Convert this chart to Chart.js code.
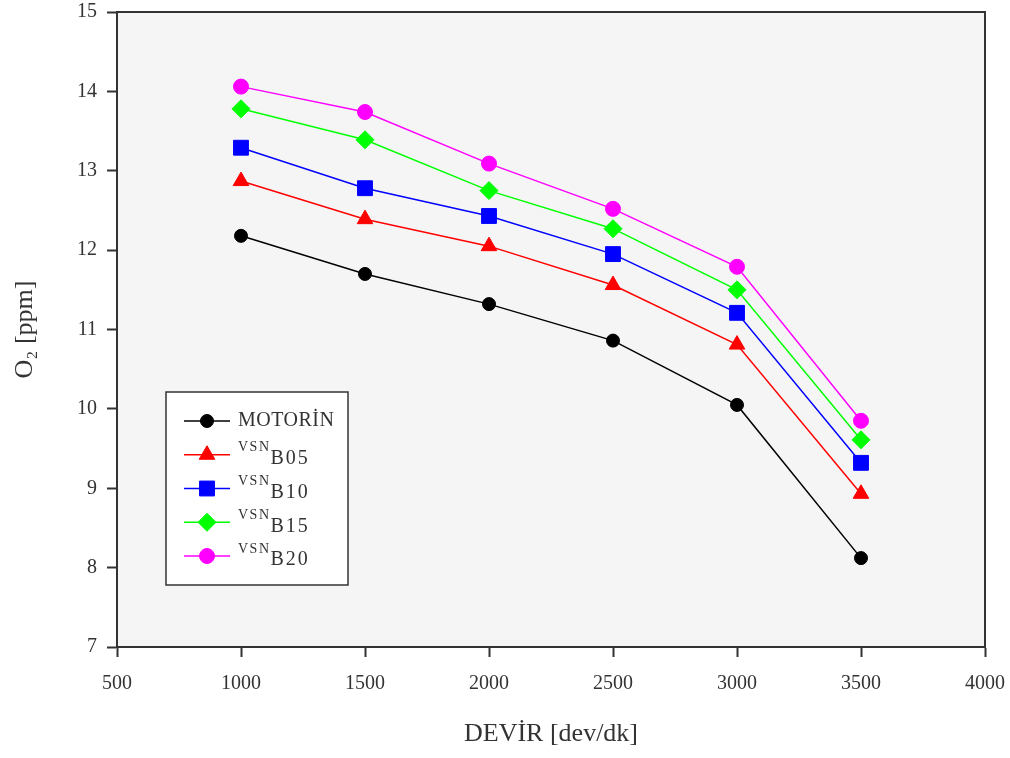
<!DOCTYPE html>
<html>
<head>
<meta charset="utf-8">
<script src="https://cdn.jsdelivr.net/npm/chart.js@4/dist/chart.umd.min.js"></script>
<style>
  body { margin: 0; background: #fff; }
</style>
</head>
<body>
  <canvas id="o2chart" width="1010" height="758"></canvas>
  <script>
    // engine speed (dev/dk) and O2 readings for each fuel
    const devir = [1000, 1500, 2000, 2500, 3000, 3500];
    const motorin = [12.18, 11.70, 11.32, 10.86, 10.05, 8.12];
    const vsnB05 = [12.87, 12.39, 12.05, 11.56, 10.81, 8.93];
    const vsnB10 = [13.29, 12.78, 12.43, 11.95, 11.21, 9.32];
    const vsnB15 = [13.78, 13.39, 12.75, 12.27, 11.50, 9.61];
    const vsnB20 = [14.06, 13.74, 13.09, 12.52, 11.79, 9.85];

    const seriesNames = ["MOTORİN", "VSN|B05", "VSN|B10", "VSN|B15", "VSN|B20"];
    const xTicks = [500, 1000, 1500, 2000, 2500, 3000, 3500, 4000];
    const yTicks = [7, 8, 9, 10, 11, 12, 13, 14, 15];

    const serif = "'Liberation Serif', 'Times New Roman', serif";

    function makeSet(name, values, color, style, radius) {
      return {
        label: name,
        data: values.map((v, i) => ({ x: devir[i], y: v })),
        borderColor: color,
        backgroundColor: color,
        borderWidth: 1.5,
        pointStyle: style,
        pointRadius: radius,
        pointHoverRadius: radius,
        pointBorderWidth: 1,
        pointBackgroundColor: color,
        pointBorderColor: color,
        tension: 0,
      };
    }

    const plotFrame = {
      id: "plotFrame",
      beforeDraw(chart) {
        const { ctx, chartArea: a } = chart;
        ctx.save();
        ctx.fillStyle = "#fff";
        ctx.fillRect(0, 0, chart.width, chart.height);
        ctx.fillStyle = "#f5f5f5";
        ctx.fillRect(a.left, a.top, a.right - a.left, a.bottom - a.top);
        ctx.restore();
      },
      afterDraw(chart) {
        const { ctx, chartArea: a } = chart;
        ctx.save();
        ctx.strokeStyle = "#333";
        ctx.lineWidth = 2;
        ctx.beginPath();
        ctx.moveTo(a.left, a.top);
        ctx.lineTo(a.right, a.top);
        ctx.lineTo(a.right, a.bottom);
        ctx.stroke();
        ctx.restore();
      },
    };

    // legend drawn by hand so the subscripts can be shown
    const boxLegend = {
      id: "boxLegend",
      afterDraw(chart) {
        const ctx = chart.ctx;
        const bx = 166, by = 392, bw = 182, bh = 193;
        ctx.save();
        ctx.fillStyle = "#fff";
        ctx.fillRect(bx, by, bw, bh);
        ctx.strokeStyle = "#333";
        ctx.lineWidth = 1.5;
        ctx.strokeRect(bx, by, bw, bh);

        chart.data.datasets.forEach((ds, i) => {
          const y = 421 + i * 33.75;
          ctx.strokeStyle = ds.borderColor;
          ctx.lineWidth = 1.5;
          ctx.beginPath();
          ctx.moveTo(184, y);
          ctx.lineTo(230, y);
          ctx.stroke();
          ctx.fillStyle = ds.borderColor;
          ctx.lineWidth = 1;
          const opts = { pointStyle: ds.pointStyle, radius: ds.pointRadius, rotation: 0, borderWidth: 1 };
          if (Chart.helpers && Chart.helpers.drawPoint) {
            Chart.helpers.drawPoint(ctx, opts, 207, y);
          } else {
            ctx.beginPath();
            ctx.arc(207, y, ds.pointRadius, 0, Math.PI * 2);
            ctx.fill();
          }

          const parts = seriesNames[i].split("|");
          ctx.fillStyle = "#333";
          ctx.textBaseline = "middle";
          ctx.textAlign = "left";
          if (parts.length === 1) {
            ctx.font = "20px " + serif;
            ctx.letterSpacing = "0.5px";
            ctx.fillText(parts[0], 238, y);
            ctx.letterSpacing = "0px";
          } else {
            ctx.font = "14px " + serif;
            ctx.letterSpacing = "1.5px";
            ctx.fillText(parts[0], 238, y - 7);
            const w = ctx.measureText(parts[0]).width;
            ctx.font = "20px " + serif;
            ctx.letterSpacing = "2px";
            ctx.fillText(parts[1], 238 + w, y + 4);
            ctx.letterSpacing = "0px";
          }
        });
        ctx.restore();
      },
    };

    new Chart("o2chart", {
      type: "line",
      data: {
        datasets: [
          makeSet(seriesNames[0], motorin, "#000000", "circle", 6.5),
          makeSet(seriesNames[1], vsnB05, "#ff0000", "triangle", 9),
          makeSet(seriesNames[2], vsnB10, "#0000ff", "rect", 10.5),
          makeSet(seriesNames[3], vsnB15, "#00ff00", "rectRot", 9),
          makeSet(seriesNames[4], vsnB20, "#ff00ff", "circle", 7.5),
        ],
      },
      options: {
        responsive: false,
        animation: false,
        layout: { padding: { top: 12, right: 25, left: 0, bottom: 0 } },
        plugins: {
          legend: { display: false },
          tooltip: { enabled: false },
        },
        scales: {
          x: {
            type: "linear",
            min: xTicks[0],
            max: xTicks[xTicks.length - 1],
            afterFit(scale) {
              scale.height = 111;
              scale.paddingLeft = 0;
              scale.paddingRight = 0;
            },
            afterBuildTicks(scale) { scale.ticks = xTicks.map((v) => ({ value: v })); },
            ticks: {
              color: "#333",
              font: { family: serif, size: 20 },
              padding: 15,
              maxRotation: 0,
              callback: (v) => String(v),
            },
            grid: {
              drawOnChartArea: false,
              drawTicks: true,
              tickLength: 10,
              tickColor: "#333",
              tickWidth: 2,
            },
            border: { display: true, color: "#333", width: 2 },
            title: {
              display: true,
              text: "DEVİR [dev/dk]",
              color: "#333",
              font: { family: serif, size: 26 },
              padding: { top: 0, bottom: 8 },
            },
          },
          y: {
            min: yTicks[0],
            max: yTicks[yTicks.length - 1],
            afterFit(scale) {
              scale.width = 117;
              scale.paddingTop = 0;
              scale.paddingBottom = 0;
            },
            afterBuildTicks(scale) { scale.ticks = yTicks.map((v) => ({ value: v })); },
            ticks: {
              color: "#333",
              font: { family: serif, size: 20 },
              padding: 10,
              callback: (v) => String(v),
            },
            grid: {
              drawOnChartArea: false,
              drawTicks: true,
              tickLength: 10,
              tickColor: "#333",
              tickWidth: 2,
            },
            border: { display: true, color: "#333", width: 2 },
            title: {
              display: true,
              text: "O₂ [ppm]",
              color: "#333",
              font: { family: serif, size: 26 },
              padding: { top: 10, bottom: 0 },
            },
          },
        },
      },
      plugins: [plotFrame, boxLegend],
    });
  </script>
</body>
</html>
